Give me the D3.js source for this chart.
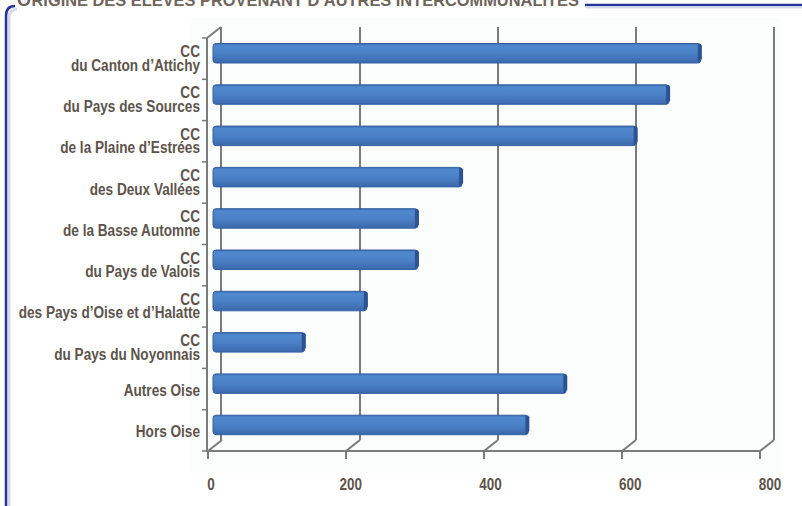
<!DOCTYPE html>
<html><head><meta charset="utf-8">
<script src="https://cdn.jsdelivr.net/npm/d3@7"></script>
<style>
html,body{margin:0;padding:0;background:#fff;}
svg{display:block;}
</style></head>
<body>
<script>
const categories = [
  ["CC","du Canton d’Attichy"],
  ["CC","du Pays des Sources"],
  ["CC","de la Plaine d’Estrées"],
  ["CC","des Deux Vallées"],
  ["CC","de la Basse Automne"],
  ["CC","du Pays de Valois"],
  ["CC","des Pays d’Oise et d’Halatte"],
  ["CC","du Pays du Noyonnais"],
  ["Autres Oise"],
  ["Hors Oise"]
];
const values = [707, 661, 614, 361, 297, 297, 223, 133, 512, 457];
const xTicks = [0, 200, 400, 600, 800];
const titleFirst = "O";
const titleRest = "RIGINE DES ÉLÈVES PROVENANT D’AUTRES INTERCOMMUNALITÉS";

const W = 802, H = 506;
const svg = d3.select("body").append("svg").attr("width", W).attr("height", H);

const defs = svg.append("defs");
const grad = defs.append("linearGradient").attr("id","barG").attr("x1",0).attr("y1",0).attr("x2",0).attr("y2",1);
grad.append("stop").attr("offset","0%").attr("stop-color","#3d6cb0");
grad.append("stop").attr("offset","12%").attr("stop-color","#5089cf");
grad.append("stop").attr("offset","55%").attr("stop-color","#4a7fc4");
grad.append("stop").attr("offset","100%").attr("stop-color","#3a68ac");

// faint chart background
svg.append("rect").attr("x",190).attr("y",18).attr("width",590).attr("height",455).attr("fill","#fbfcfc");

// frame
svg.append("path").attr("d","M9,506 V18 Q9,9 17,9").attr("fill","none").attr("stroke","#d6daf0").attr("stroke-width",3);
svg.append("path").attr("d","M6,506 V16 Q6,6 15,6").attr("fill","none").attr("stroke","#24359a").attr("stroke-width",2.5);
svg.append("line").attr("x1",585).attr("x2",W).attr("y1",5).attr("y2",5).attr("stroke","#24359a").attr("stroke-width",2.5);
svg.append("line").attr("x1",585).attr("x2",W).attr("y1",7.5).attr("y2",7.5).attr("stroke","#d6daf0").attr("stroke-width",2);

// title
const title = svg.append("text").attr("x",17).attr("y",6)
  .attr("font-family","'Liberation Sans', Arial, sans-serif").attr("font-weight","bold")
  .attr("fill","#6e645a");
title.append("tspan").attr("font-size",18).text(titleFirst);
title.append("tspan").attr("font-size",16.4).attr("dx",0.5).text(titleRest);

// scales
const xFront = d3.scaleLinear().domain([0,800]).range([208,760]);
const xBar = d3.scaleLinear().domain([0,800]).range([213,765]);
const xLab = d3.scaleLinear().domain([0,800]).range([211,770]);
const dx = 14, dy = -11;
const yTop = 38, yBot = 451;
const y = d3.scaleBand().domain(d3.range(categories.length)).range([yTop, yBot]).paddingInner(0).paddingOuter(0);

const axisColor = "#7a7a7a";
const g = svg.append("g");

// back wall left edge & gridlines
g.append("line").attr("x1",207+dx).attr("x2",207+dx).attr("y1",yTop+dy).attr("y2",yBot+dy)
  .attr("stroke",axisColor).attr("stroke-width",2);
g.selectAll(".grid").data(xTicks.slice(1)).join("line")
  .attr("x1",d=>xFront(d)+dx).attr("x2",d=>xFront(d)+dx)
  .attr("y1",yTop+dy).attr("y2",yBot+dy)
  .attr("stroke",axisColor).attr("stroke-width",2);
// floor diagonals
g.selectAll(".diag").data(xTicks).join("line")
  .attr("x1",d=>xFront(d)).attr("y1",yBot)
  .attr("x2",d=>xFront(d)+dx).attr("y2",yBot+dy)
  .attr("stroke",axisColor).attr("stroke-width",2);
// top-left diagonal
g.append("line").attr("x1",207).attr("y1",yTop).attr("x2",207+dx).attr("y2",yTop+dy)
  .attr("stroke",axisColor).attr("stroke-width",2);

// front axes
g.append("line").attr("x1",207).attr("x2",207).attr("y1",yTop).attr("y2",yBot)
  .attr("stroke",axisColor).attr("stroke-width",2);
g.append("line").attr("x1",206).attr("x2",760).attr("y1",yBot).attr("y2",yBot)
  .attr("stroke",axisColor).attr("stroke-width",2);
// x tick marks
g.selectAll(".xt").data(xTicks).join("line")
  .attr("x1",d=>xFront(d)).attr("x2",d=>xFront(d)).attr("y1",yBot).attr("y2",yBot+8)
  .attr("stroke",axisColor).attr("stroke-width",2);
// y tick marks
g.selectAll(".yt").data(d3.range(categories.length+1)).join("line")
  .attr("x1",202).attr("x2",207)
  .attr("y1",d=>yTop + d*y.step()).attr("y2",d=>yTop + d*y.step())
  .attr("stroke",axisColor).attr("stroke-width",1.5);

// bars
const barOff = 5.5, barH = 19.5;
const bars = svg.append("g");
bars.selectAll("rect.bar").data(values).join("rect")
  .attr("class","bar")
  .attr("x",xBar(0)).attr("y",(d,i)=>y(i)+barOff)
  .attr("width",d=>xBar(d)-xBar(0)).attr("height",barH)
  .attr("rx",3)
  .attr("fill","url(#barG)").attr("stroke","#3561a3").attr("stroke-width",1);
// end caps
bars.selectAll("path.cap").data(values).join("path")
  .attr("class","cap")
  .attr("d",(d,i)=>{
    const x1 = xBar(d), t = y(i)+barOff, b = t+barH;
    return `M${x1-3},${t+0.5} L${x1},${t+0.5} L${x1+1},${t+2} L${x1+1},${b-4} L${x1-3},${b} Z`;
  })
  .attr("fill","#2c5390");

// category labels (Arial-metric bold, condensed like Arial Narrow)
const labFont = "'Liberation Sans', Arial, sans-serif";
const narrow = 0.82;
const labs = svg.append("g").attr("font-family",labFont).attr("font-weight","bold")
  .attr("font-size",16.6).attr("fill","#5d544c").attr("text-anchor","end");
categories.forEach((lines,i)=>{
  const c = y(i) + y.bandwidth()/2;
  const gg = labs.append("g").attr("transform",`translate(200,${c}) scale(${narrow},1)`);
  if (lines.length === 2) {
    gg.append("text").attr("x",0).attr("y",-1.5).text(lines[0]);
    gg.append("text").attr("x",0).attr("y",12).text(lines[1]);
  } else {
    gg.append("text").attr("x",0).attr("y",6.8).text(lines[0]);
  }
});

// x tick labels
svg.append("g").attr("font-family",labFont).attr("font-weight","bold")
  .attr("font-size",16.5).attr("fill","#5d544c").attr("text-anchor","middle")
  .selectAll("text").data(xTicks).join("text")
  .attr("transform",d=>`translate(${xLab(d)},490) scale(${narrow},1)`)
  .text(d=>d);
</script>
</body></html>
